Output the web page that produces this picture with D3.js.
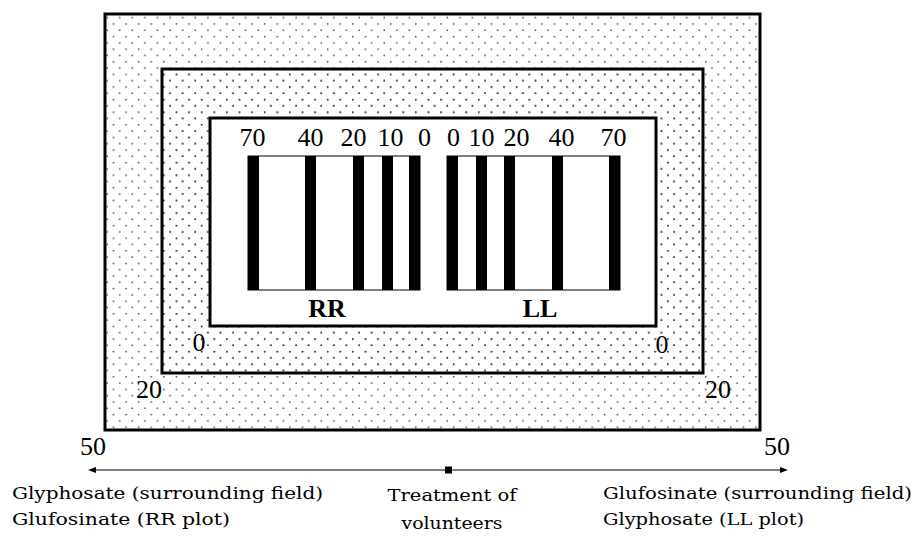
<!DOCTYPE html>
<html>
<head>
<meta charset="utf-8">
<script src="https://cdn.jsdelivr.net/npm/d3@7"></script>
<style>
  html, body { margin: 0; padding: 0; background: #fff; }
  svg { display: block; }
</style>
</head>
<body>
<svg id="chart" width="921" height="538"></svg>
<script>
// ---------- data ----------
const rrDoses = [70, 40, 20, 10, 0];          // strip labels, RR plot (left)
const rrGaps  = [57, 48, 29, 27];             // relative spacing between strips, RR plot
const llDoses = [0, 10, 20, 40, 70];          // strip labels, LL plot (right)
const llGaps  = [29, 28, 48, 57];             // relative spacing between strips, LL plot
const plotNames = ["RR", "LL"];
const zoneLabels = ["50", "20", "0"];         // outer, middle, inner zone boundaries
const leftCaption  = ["Glyphosate (surrounding field)", "Glufosinate (RR plot)"];
const centerCaption = ["Treatment of", "volunteers"];
const rightCaption = ["Glufosinate (surrounding field)", "Glyphosate (LL plot)"];

// ---------- layout / style ----------
const numFont = "'Liberation Serif', 'Times New Roman', Times, serif";
const capFont = "'DejaVu Serif', 'Liberation Serif', serif";
const rrLabelNudge = [-1, 0, -5, 3, 10];      // typographic nudges of strip labels (px)
const llLabelNudge = [1, 0, 7, 4, -1];

const svg = d3.select("#chart");
const defs = svg.append("defs");
const pat = defs.append("pattern")
  .attr("id", "dots").attr("patternUnits", "userSpaceOnUse")
  .attr("width", 12.6).attr("height", 12.6)
  .attr("patternTransform", "translate(11.9,10.7)");
pat.append("rect").attr("x", 0).attr("y", 0).attr("width", 1.4).attr("height", 1.4).attr("fill", "#333");
pat.append("rect").attr("x", 6.3).attr("y", 6.3).attr("width", 1.4).attr("height", 1.4).attr("fill", "#333");

const frames = [
  { x0: 105, y0: 14,  x1: 760, y1: 430, fill: "url(#dots)" },
  { x0: 162, y0: 69,  x1: 703, y1: 373, fill: "url(#dots)" },
  { x0: 210, y0: 118, x1: 656, y1: 326, fill: "#fff" }
];
svg.selectAll("rect.frame").data(frames).join("rect")
  .attr("class", "frame")
  .attr("x", d => d.x0).attr("y", d => d.y0)
  .attr("width", d => d.x1 - d.x0).attr("height", d => d.y1 - d.y0)
  .attr("fill", d => d.fill)
  .attr("stroke", "#000").attr("stroke-width", 3);

// zone labels: bottom-left and bottom-right corner of each frame
const zoneLeft  = [{ x: 93, y: 455 }, { x: 149, y: 398 }, { x: 199, y: 351 }];
const zoneRight = [{ x: 777, y: 455 }, { x: 718, y: 398 }, { x: 662, y: 353 }];
zoneLabels.forEach((lab, i) => {
  [zoneLeft[i], zoneRight[i]].forEach(p => {
    svg.append("text").attr("x", p.x).attr("y", p.y)
      .attr("text-anchor", "middle").attr("font-family", numFont).attr("font-size", 26)
      .text(lab);
  });
});

// ---------- strips ----------
const stripTop = 156, stripBottom = 290, barW = 11;
function cum(gaps) { const c = [0]; gaps.forEach(g => c.push(c[c.length - 1] + g)); return c; }

function drawPlot(doses, gaps, range, name, nameX, nudge) {
  const pos = cum(gaps);
  const x = d3.scaleLinear().domain([0, pos[pos.length - 1]]).range(range);
  const g = svg.append("g");
  g.append("rect")
    .attr("x", x(0) - barW / 2).attr("y", stripTop)
    .attr("width", x(pos[pos.length - 1]) - x(0) + barW).attr("height", stripBottom - stripTop)
    .attr("fill", "#fff").attr("stroke", "#000").attr("stroke-width", 1);
  g.selectAll("rect.bar").data(doses).join("rect")
    .attr("class", "bar")
    .attr("x", (d, i) => x(pos[i]) - barW / 2).attr("y", stripTop)
    .attr("width", barW).attr("height", stripBottom - stripTop)
    .attr("fill", "#000");
  g.selectAll("text.dose").data(doses).join("text")
    .attr("class", "dose")
    .attr("x", (d, i) => x(pos[i]) + nudge[i]).attr("y", 146)
    .attr("text-anchor", "middle").attr("font-family", numFont).attr("font-size", 26)
    .text(d => d);
  g.append("text").attr("x", nameX).attr("y", 317)
    .attr("text-anchor", "middle").attr("font-family", numFont)
    .attr("font-size", 26).attr("font-weight", "bold")
    .text(name);
}
drawPlot(rrDoses, rrGaps, [253.5, 414.5], plotNames[0], 327, rrLabelNudge);
drawPlot(llDoses, llGaps, [452.5, 614.5], plotNames[1], 540, llLabelNudge);

// ---------- arrow ----------
const ay = 470;
svg.append("line").attr("x1", 92).attr("x2", 784).attr("y1", ay).attr("y2", ay)
  .attr("stroke", "#000").attr("stroke-width", 1.2);
svg.append("path").attr("d", `M88,${ay} L96,${ay - 3} L96,${ay + 3} Z`).attr("fill", "#000");
svg.append("path").attr("d", `M788,${ay} L780,${ay - 3} L780,${ay + 3} Z`).attr("fill", "#000");
svg.append("rect").attr("x", 445).attr("y", ay - 3.5).attr("width", 7).attr("height", 7).attr("fill", "#000");

// ---------- captions ----------
function caption(lines, x, ys, anchor, widths) {
  lines.forEach((t, i) => {
    svg.append("text").attr("x", x).attr("y", ys[i])
      .attr("text-anchor", anchor).attr("font-family", capFont).attr("font-size", 17)
      .attr("textLength", widths[i]).attr("lengthAdjust", "spacingAndGlyphs")
      .text(t);
  });
}
caption(leftCaption, 12, [499, 525], "start", [311, 218]);
caption(centerCaption, 452, [501, 529], "middle", [129, 101]);
caption(rightCaption, 603, [499, 525], "start", [309, 201]);
</script>
</body>
</html>
